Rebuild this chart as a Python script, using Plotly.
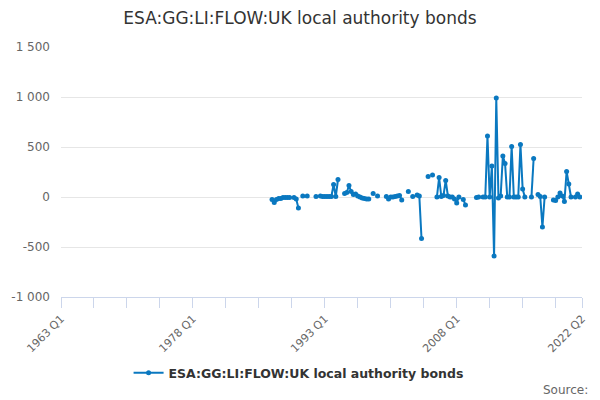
import plotly.graph_objects as go

# quarterly categories 1963 Q1 .. 2022 Q2
quarters = []
for yr in range(1963, 2023):
    for q in range(1, 5):
        quarters.append(str(yr) + ' Q' + str(q))
        if yr == 2022 and q == 2:
            break

# observed runs: first quarter of each run and its values (GBP m)
seg_starts = ["1987 Q1", "1989 Q3", "1990 Q3", "1991 Q1", "1992 Q1", "1992 Q3",
              "1995 Q2", "1998 Q3", "1999 Q1", "2000 Q1", "2002 Q3", "2003 Q1",
              "2003 Q3", "2004 Q4", "2005 Q2", "2005 Q4", "2008 Q4", "2010 Q2",
              "2011 Q1", "2016 Q3", "2017 Q2", "2019 Q1", "2021 Q3"]
seg_values = [
    [-25, -55, -25, -15, -15, -5, -5, -5, -5],
    [-5, -20, -110],
    [10],
    [10],
    [5],
    [10, 5, 5, 5, 5, 5, 125, 5, 175],
    [35, 45, 115, 55, 25, 30, 10, 0, -10, -15, -20, -20],
    [35],
    [10],
    [5, -20, 0, 0, 5, 10, 15, -30],
    [55],
    [5],
    [20, 10, -415],
    [205],
    [220],
    [0, 195, 5, 15, 165, 10, 0, 0, -20, -60, 0],
    [-25, -80],
    [-5, 0],
    [0, 0, 610, 0, 310, -590, 990, -10, 10, 410, 335, 0, 0, 505, 0, 0, 0, 525, 80, 0],
    [0, 385],
    [25, 5, -300, 0],
    [-30, -35, 0, 40, 10, -45, 255, 130, 0],
    [0, 30, 0],
]

y_ticks = [-1000, -500, 0, 500, 1000, 1500]
y_labels = ["-1 000", "-500", "0", "500", "1 000", "1 500"]
x_label_quarters = ["1963 Q1", "1978 Q1", "1993 Q1", "2008 Q1", "2022 Q2"]

series_name = "ESA:GG:LI:FLOW:UK local authority bonds"

values = [None] * len(quarters)
for start, vals in zip(seg_starts, seg_values):
    k = quarters.index(start)
    for j, v in enumerate(vals):
        values[k + j] = v

# tick marks every 15 quarters plus the last one
tick_idx = list(range(0, len(quarters), 15)) + [len(quarters) - 1]
tick_vals = [quarters[i] for i in tick_idx]
tick_text = [q if q in x_label_quarters else '' for q in tick_vals]

line_col = '#0a78c0'

fig = go.Figure(go.Scatter(
    x=quarters, y=values, mode='lines+markers', name=series_name,
    line=dict(color=line_col, width=2),
    marker=dict(color=line_col, size=5),
    connectgaps=False))

fig.update_layout(
    width=600, height=400,
    margin=dict(l=61, r=18, t=47, b=103),
    paper_bgcolor='white', plot_bgcolor='white',
    font=dict(family='DejaVu Sans', color='#666666', size=11),
    title=dict(text=series_name, x=0.5, xanchor='center', y=0.955, yanchor='middle',
               yref='container', font=dict(size=17, color='#333333')),
    showlegend=True,
    legend=dict(orientation='h', x=0.456, xanchor='center', y=-0.304, yanchor='middle',
                font=dict(size=12.5, color='#333333', weight='bold')),
    annotations=[dict(text='Source:', xref='paper', yref='paper', x=1.015, y=-0.372,
                      xanchor='right', yanchor='middle', showarrow=False,
                      font=dict(size=12, color='#666666'))],
)

fig.update_xaxes(
    type='category', range=[0, len(quarters) - 1],
    tickmode='array', tickvals=tick_vals, ticktext=tick_text, tickangle=-45,
    ticks='outside', ticklen=10, tickcolor='#ccd6eb',
    showline=True, linecolor='#ccd6eb', linewidth=1,
    showgrid=False, zeroline=False)

fig.update_yaxes(
    range=[-1000, 1500], tickmode='array', tickvals=y_ticks, ticktext=y_labels,
    tickfont=dict(size=12),
    showgrid=True, gridcolor='#e6e6e6', gridwidth=1,
    zeroline=False, showline=False, ticks='', ticklabelstandoff=10)

# page body has a default margin; drop it so the figure sits at 0,0
fig.write_html("out.html", config={'displayModeBar': False},
               post_script="document.body.style.margin='0';")
